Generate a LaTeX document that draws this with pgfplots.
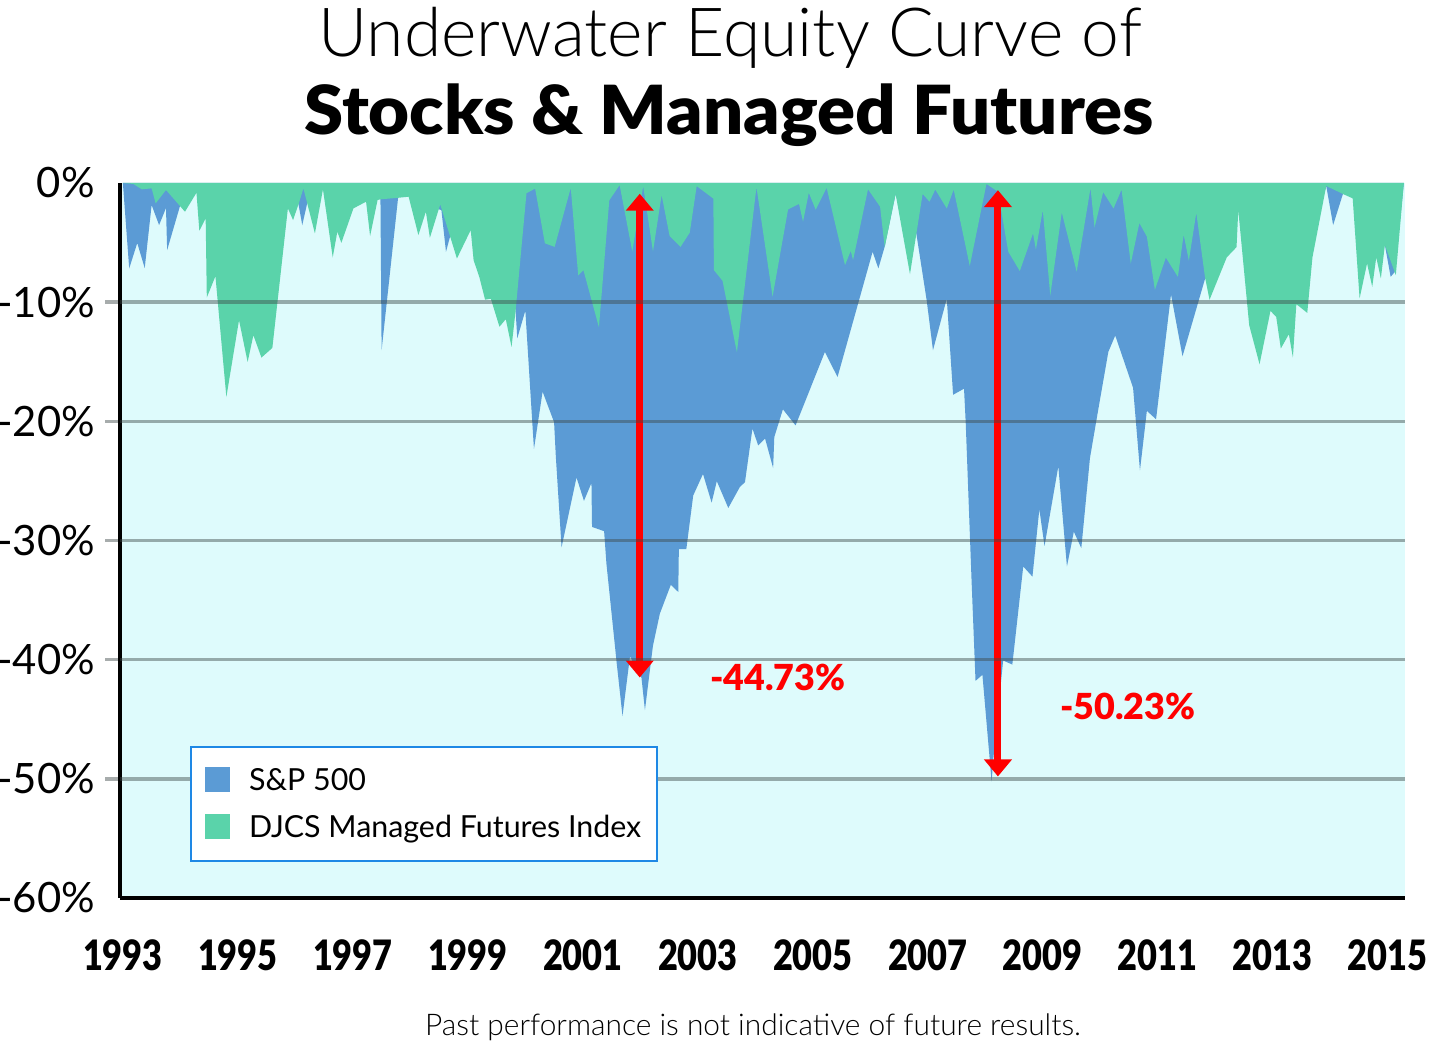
\documentclass[border=0pt]{standalone}
\usepackage{pgfplots}
\pgfplotsset{compat=1.18}
\usepackage{pgfplotstable}
\usepackage{fontspec}
\usetikzlibrary{arrows.meta}
\setmainfont{Lato}
\newfontfamily\lightfont{Lato Light}
\newfontfamily\blackfont{Lato Black}
\newfontfamily\headfont{Lato Black}[FakeStretch=1.043]
\newfontfamily\yearfont{Lato Black}[FakeStretch=0.82]

\definecolor{spblue}{RGB}{91,155,213}
\definecolor{mfgreen}{RGB}{90,211,170}
\definecolor{bgcyan}{RGB}{222,251,252}
\definecolor{gridgray}{RGB}{60,72,72}
\definecolor{legendblue}{RGB}{30,136,229}
\definecolor{arrowred}{RGB}{255,0,0}

% S&P 500 drawdown from prior peak (%)
\pgfplotstableread{
year dd
1993.00 0.00
1993.11 -7.17
1993.25 -5.04
1993.38 -7.14
1993.50 -1.85
1993.63 -3.53
1993.75 -2.10
1993.77 -5.63
1993.99 -1.99
1994.10 -1.01
1994.30 -0.50
1994.50 -3.00
1994.80 -5.00
1995.20 -3.00
1995.60 -1.00
1995.87 -0.80
1996.01 -0.60
1996.12 -3.53
1996.22 -1.40
1996.50 -0.30
1996.75 -2.00
1997.00 -1.00
1997.23 -0.80
1997.43 -1.00
1997.48 -1.30
1997.50 -14.03
1997.79 -1.10
1998.00 -0.80
1998.14 -2.00
1998.27 -1.50
1998.34 -2.00
1998.54 -2.27
1998.62 -5.77
1998.69 -4.51
1998.81 -5.00
1999.05 -3.00
1999.10 -4.00
1999.30 -5.00
1999.55 -6.00
1999.76 -8.00
1999.83 -10.67
1999.86 -13.03
2000.00 -10.71
2000.08 -16.92
2000.15 -22.32
2000.30 -17.51
2000.50 -20.07
2000.53 -22.92
2000.63 -30.57
2000.89 -24.71
2001.02 -26.67
2001.15 -25.17
2001.16 -28.86
2001.37 -29.22
2001.41 -31.92
2001.59 -40.33
2001.69 -44.73
2001.82 -39.72
2002.02 -41.52
2002.08 -44.23
2002.22 -38.82
2002.34 -36.13
2002.53 -33.72
2002.66 -34.32
2002.67 -30.72
2002.80 -30.72
2002.92 -26.22
2003.09 -24.42
2003.24 -26.82
2003.33 -25.02
2003.53 -27.27
2003.73 -25.52
2003.82 -25.10
2003.95 -20.61
2004.05 -22.02
2004.17 -21.45
2004.31 -23.92
2004.33 -21.32
2004.48 -18.99
2004.70 -20.34
2005.21 -14.18
2005.43 -16.28
2006.04 -5.77
2006.14 -7.17
2006.25 -5.35
2006.44 -0.92
2006.62 -3.80
2006.80 -4.23
2006.98 -9.83
2007.09 -14.03
2007.33 -9.71
2007.44 -17.77
2007.63 -17.26
2007.66 -20.17
2007.76 -33.21
2007.83 -41.78
2007.95 -41.27
2008.11 -50.23
2008.14 -48.30
2008.31 -40.07
2008.47 -40.41
2008.66 -32.18
2008.82 -33.03
2008.94 -27.38
2009.03 -30.46
2009.27 -23.77
2009.42 -32.18
2009.54 -29.26
2009.67 -30.64
2009.82 -23.09
2009.96 -19.14
2010.14 -14.17
2010.26 -12.80
2010.57 -17.18
2010.69 -24.12
2010.81 -19.12
2010.97 -19.83
2011.23 -9.35
2011.43 -14.54
2011.82 -8.07
2011.99 -7.30
2012.20 -5.00
2012.40 -2.00
2012.60 -5.00
2012.90 -6.00
2013.20 -4.00
2013.60 -5.00
2013.80 -2.50
2013.93 -0.25
2014.05 -3.53
2014.22 -0.92
2014.39 -1.00
2014.51 -4.00
2014.64 -3.00
2014.80 -4.00
2014.88 -5.00
2014.95 -5.21
2015.05 -7.87
2015.12 -7.48
2015.28 0.00
}\spdata

% DJCS Managed Futures Index drawdown from prior peak (%)
\pgfplotstableread{
year dd
1993.00 0.00
1993.18 -0.08
1993.33 -0.53
1993.50 -0.45
1993.57 -1.71
1993.75 -0.59
1994.08 -2.41
1994.28 -0.82
1994.33 -4.01
1994.44 -2.97
1994.46 -9.61
1994.61 -7.82
1994.80 -17.96
1995.02 -11.51
1995.17 -15.02
1995.27 -12.77
1995.41 -14.65
1995.60 -13.84
1995.87 -2.13
1995.96 -3.11
1996.06 -1.71
1996.14 -0.45
1996.34 -4.23
1996.48 -0.53
1996.65 -6.24
1996.73 -4.09
1996.80 -5.02
1997.01 -2.13
1997.23 -1.57
1997.30 -4.45
1997.43 -1.43
1997.48 -1.37
1997.79 -1.24
1997.97 -1.15
1998.14 -4.37
1998.27 -2.41
1998.34 -4.60
1998.52 -1.79
1998.81 -6.34
1999.05 -3.95
1999.10 -6.47
1999.20 -7.90
1999.30 -9.79
1999.40 -9.71
1999.55 -12.06
1999.66 -11.43
1999.76 -13.76
1999.83 -10.76
2000.02 -0.86
2000.17 -0.47
2000.34 -5.06
2000.51 -5.36
2000.79 -0.41
2000.92 -7.76
2001.01 -7.31
2001.28 -12.11
2001.46 -1.46
2001.64 -0.17
2001.86 -5.75
2002.05 -0.26
2002.22 -5.75
2002.37 -1.01
2002.51 -4.46
2002.70 -5.36
2002.86 -4.16
2002.98 -0.26
2003.27 -1.31
2003.28 -7.31
2003.43 -8.21
2003.68 -14.21
2004.02 -0.34
2004.30 -9.54
2004.57 -2.21
2004.76 -1.76
2004.83 -3.25
2004.93 -0.82
2005.05 -2.24
2005.24 -0.40
2005.56 -6.89
2005.66 -5.69
2005.70 -6.47
2005.96 -0.53
2006.17 -1.99
2006.25 -5.38
2006.44 -0.92
2006.69 -7.65
2006.91 -0.92
2007.03 -1.57
2007.13 -0.55
2007.33 -2.14
2007.45 -0.55
2007.73 -6.97
2008.02 -0.08
2008.22 -0.73
2008.40 -5.77
2008.60 -7.39
2008.83 -4.23
2008.88 -5.59
2009.00 -2.27
2009.13 -9.45
2009.33 -2.48
2009.59 -7.44
2009.83 -0.42
2009.90 -3.74
2010.05 -0.76
2010.23 -2.14
2010.37 -0.55
2010.53 -6.76
2010.68 -3.36
2010.81 -4.50
2010.95 -8.97
2011.14 -6.26
2011.35 -7.88
2011.45 -4.33
2011.54 -6.52
2011.67 -2.50
2011.82 -7.87
2011.90 -9.80
2012.20 -6.24
2012.37 -5.38
2012.40 -2.27
2012.59 -11.93
2012.77 -15.21
2012.96 -10.73
2013.06 -11.24
2013.14 -13.89
2013.28 -12.69
2013.35 -14.65
2013.41 -10.17
2013.60 -10.90
2013.69 -6.24
2013.93 -0.25
2014.22 -0.92
2014.39 -1.29
2014.51 -9.69
2014.64 -6.75
2014.73 -8.71
2014.80 -6.24
2014.88 -8.01
2014.95 -5.21
2015.14 -7.73
2015.28 0.00
}\mfdata

\begin{document}
\begin{tikzpicture}
\useasboundingbox (0bp,0bp) rectangle (1430bp,1042bp);

% title
\node[font=\lightfont\fontsize{68}{68}\selectfont, anchor=base] at (730bp,985bp) {Underwater Equity Curve of};
\node[font=\headfont\fontsize{68}{68}\selectfont, anchor=base] at (729bp,907bp) {Stocks \& Managed Futures};

\begin{axis}[
  at={(120bp,144bp)}, anchor=south west,
  scale only axis, width=1285bp, height=715bp,
  xmin=1992.95, xmax=2015.3, ymin=-60, ymax=0,
  enlargelimits=false, clip=false,
  axis lines=left,
  axis line style={-, line width=4bp, black},
  axis background/.style={fill=bgcyan},
  axis on top,
  major tick length=0pt,
  ytick={-60,-50,-40,-30,-20,-10,0},
  yticklabels={-60\%,-50\%,-40\%,-30\%,-20\%,-10\%,0\%},
  yticklabel style={font=\fontsize{42}{42}\selectfont, anchor=east, inner sep=0pt, xshift=-25bp},
  xtick={1993,1995,1997,1999,2001,2003,2005,2007,2009,2011,2013,2015},
  xticklabels={1993,1995,1997,1999,2001,2003,2005,2007,2009,2011,2013,2015},
  xticklabel style={font=\yearfont\fontsize{42}{42}\selectfont, anchor=base, inner sep=0pt, yshift=-72bp},
  extra y ticks={-50,-40,-30,-20,-10},
  extra y tick labels={},
  extra y tick style={grid=major},
  major grid style={gridgray, opacity=0.45, line width=3.5bp},
  legend style={at={(axis description cs:0.0545,0.0503)}, anchor=south west,
    draw=legendblue, line width=2bp, fill=white,
    font=\fontsize{30.5}{30.5}\selectfont,
    inner xsep=14bp, inner ysep=20bp, row sep=19bp},
  legend cell align=left,
  legend image code/.code={\path[#1,draw=none] (0bp,-12bp) rectangle (25bp,13bp);
    \path (42bp,0bp);},
]
\addplot[fill=spblue, draw=none] table[x=year, y=dd] {\spdata} \closedcycle;
\addplot[fill=mfgreen, draw=none] table[x=year, y=dd] {\mfdata} \closedcycle;
\legend{S\&P 500, DJCS Managed Futures Index}

% grid stubs left of the y axis
\pgfplotsinvokeforeach{-50,-40,-30,-20,-10}{
  \draw[gridgray, opacity=0.45, line width=3.5bp] (axis cs:1992.95,#1) -- ++(-15bp,0bp);
}

% drawdown arrows and their values
\draw[arrowred, line width=7bp, {Triangle[width=27bp,length=17bp]}-{Triangle[width=27bp,length=17bp]}]
  (axis cs:2001.99,-0.9) -- (axis cs:2001.99,-41.5);
\draw[arrowred, line width=7bp, {Triangle[width=27bp,length=17bp]}-{Triangle[width=27bp,length=17bp]}]
  (axis cs:2008.22,-0.6) -- (axis cs:2008.22,-49.8);
\node[arrowred, font=\blackfont\fontsize{36}{36}\selectfont] at (axis cs:2004.39,-41.5) {-44.73\%};
\node[arrowred, font=\blackfont\fontsize{36}{36}\selectfont] at (axis cs:2010.48,-43.9) {-50.23\%};
\end{axis}

% footnote
\node[font=\lightfont\fontsize{30}{30}\selectfont, anchor=base] at (753bp,7bp) {Past performance is not indicative of future results.};
\end{tikzpicture}
\end{document}
